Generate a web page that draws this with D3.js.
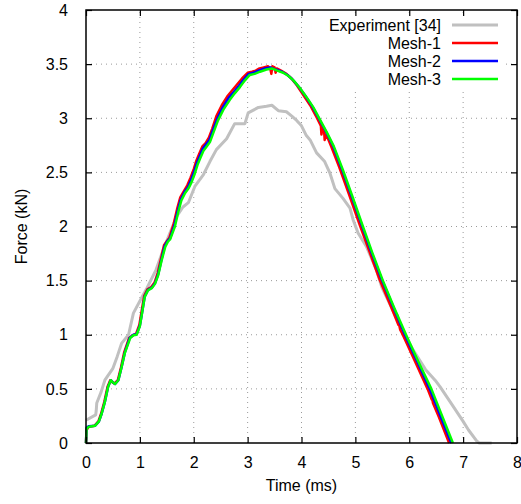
<!DOCTYPE html>
<html><head><meta charset="utf-8">
<script src="https://cdn.jsdelivr.net/npm/d3@7"></script>
<style>body{margin:0;background:#fff}svg{display:block}text{font-family:"Liberation Sans",Arial,Helvetica,sans-serif;font-size:16px;fill:#000}</style>
</head><body><div id="chart"></div>
<script>
const xTicks = [0,1,2,3,4,5,6,7,8];
const yTicks = [0,0.5,1,1.5,2,2.5,3,3.5,4];
const seriesNames = ["Experiment [34]","Mesh-1","Mesh-2","Mesh-3"];
const seriesColors = ["#c0c0c0","#ff0000","#0000ff","#00ff00"];

const experiment = [[0,0.21],[0.18,0.26],[0.19,0.3],[0.2,0.37],[0.28,0.47],[0.35,0.58],[0.5,0.69],[0.58,0.8],[0.66,0.92],[0.79,1.0],[0.88,1.2],[1.03,1.34],[1.13,1.43],[1.2,1.5],[1.3,1.6],[1.43,1.78],[1.55,1.93],[1.68,2.09],[1.8,2.18],[1.9,2.22],[2.02,2.37],[2.18,2.48],[2.3,2.6],[2.42,2.71],[2.61,2.81],[2.76,2.95],[2.95,2.95],[3.01,3.05],[3.2,3.10],[3.35,3.11],[3.45,3.12],[3.57,3.07],[3.72,3.06],[3.82,3.02],[3.91,2.98],[4.0,2.93],[4.09,2.84],[4.16,2.80],[4.28,2.68],[4.43,2.60],[4.53,2.49],[4.62,2.35],[4.77,2.26],[4.9,2.17],[4.96,2.06],[5.05,1.94],[5.21,1.81],[5.39,1.60],[5.49,1.44],[5.7,1.22],[5.9,1.02],[6.07,0.86],[6.3,0.68],[6.48,0.58],[6.57,0.52],[6.8,0.35],[7.0,0.2],[7.1,0.12],[7.25,0.02],[7.3,0],[7.53,0]];

const mesh1 = [[0,0],[0.01,0.12],[0.05,0.15],[0.16,0.16],[0.23,0.2],[0.28,0.27],[0.34,0.38],[0.4,0.52],[0.45,0.58],[0.49,0.56],[0.53,0.55],[0.59,0.58],[0.65,0.7],[0.71,0.84],[0.8,0.97],[0.87,0.995],[0.93,1.01],[0.99,1.09],[1.02,1.18],[1.08,1.36],[1.14,1.42],[1.21,1.44],[1.27,1.48],[1.33,1.57],[1.39,1.7],[1.45,1.83],[1.51,1.87],[1.55,1.9],[1.63,2.03],[1.69,2.16],[1.75,2.27],[1.82,2.33],[1.88,2.38],[1.94,2.45],[2.0,2.53],[2.05,2.61],[2.1,2.67],[2.16,2.74],[2.22,2.77],[2.28,2.82],[2.34,2.9],[2.42,3.02],[2.52,3.12],[2.62,3.2],[2.7,3.25],[2.8,3.31],[2.9,3.37],[3.0,3.42],[3.08,3.43],[3.15,3.44],[3.22,3.46],[3.3,3.47],[3.38,3.48],[3.42,3.46],[3.44,3.41],[3.46,3.48],[3.5,3.47],[3.52,3.42],[3.54,3.46],[3.62,3.44],[3.72,3.41],[3.81,3.37],[3.92,3.30],[4.04,3.21],[4.16,3.12],[4.28,3.01],[4.36,2.93],[4.37,2.85],[4.39,2.91],[4.42,2.88],[4.43,2.80],[4.46,2.85],[4.55,2.74],[4.7,2.55],[4.88,2.3],[5.07,2.03],[5.26,1.77],[5.45,1.51],[5.66,1.26],[5.8,1.09],[5.77,1.19],[5.83,1.05],[5.88,1.0],[6.11,0.75],[6.34,0.5],[6.42,0.40],[6.41,0.46],[6.44,0.37],[6.55,0.24],[6.74,0]];

const mesh2 = [[0,0],[0.01,0.14],[0.05,0.155],[0.17,0.16],[0.24,0.2],[0.29,0.27],[0.35,0.38],[0.41,0.52],[0.46,0.58],[0.5,0.56],[0.54,0.545],[0.6,0.58],[0.66,0.7],[0.72,0.835],[0.81,0.97],[0.88,1.0],[0.94,1.005],[1.0,1.085],[1.03,1.17],[1.09,1.355],[1.15,1.415],[1.22,1.435],[1.28,1.475],[1.34,1.56],[1.4,1.69],[1.46,1.82],[1.51,1.865],[1.56,1.89],[1.64,2.01],[1.7,2.14],[1.76,2.25],[1.83,2.32],[1.89,2.36],[1.95,2.43],[2.01,2.51],[2.06,2.59],[2.11,2.65],[2.17,2.72],[2.23,2.76],[2.29,2.8],[2.35,2.88],[2.44,3.0],[2.54,3.1],[2.65,3.19],[2.74,3.24],[2.84,3.3],[2.93,3.36],[3.02,3.41],[3.11,3.42],[3.2,3.44],[3.32,3.46],[3.42,3.47],[3.52,3.45],[3.64,3.43],[3.74,3.4],[3.83,3.36],[3.95,3.29],[4.08,3.2],[4.2,3.11],[4.32,3.0],[4.45,2.88],[4.58,2.75],[4.75,2.53],[4.93,2.28],[5.12,2.01],[5.3,1.76],[5.49,1.51],[5.7,1.26],[5.92,1.0],[6.15,0.75],[6.38,0.5],[6.58,0.25],[6.78,0]];

const mesh3 = [[0,0],[0.01,0.13],[0.05,0.15],[0.17,0.16],[0.24,0.2],[0.29,0.27],[0.35,0.38],[0.41,0.52],[0.46,0.58],[0.5,0.56],[0.54,0.545],[0.6,0.58],[0.66,0.7],[0.72,0.83],[0.82,0.97],[0.88,0.995],[0.94,1.0],[1.0,1.08],[1.03,1.17],[1.09,1.35],[1.15,1.41],[1.22,1.43],[1.28,1.47],[1.34,1.55],[1.4,1.68],[1.47,1.81],[1.52,1.86],[1.56,1.88],[1.65,2.0],[1.71,2.13],[1.77,2.24],[1.84,2.31],[1.9,2.35],[1.96,2.41],[2.02,2.49],[2.07,2.57],[2.12,2.63],[2.18,2.7],[2.24,2.74],[2.3,2.78],[2.36,2.86],[2.45,2.98],[2.55,3.08],[2.67,3.17],[2.76,3.23],[2.86,3.29],[2.95,3.35],[3.04,3.40],[3.13,3.41],[3.23,3.43],[3.35,3.45],[3.45,3.46],[3.55,3.44],[3.66,3.42],[3.76,3.39],[3.85,3.35],[3.97,3.28],[4.1,3.19],[4.22,3.10],[4.34,2.99],[4.47,2.87],[4.6,2.74],[4.77,2.52],[4.95,2.27],[5.14,2.0],[5.32,1.75],[5.51,1.5],[5.72,1.25],[5.94,1.0],[6.17,0.75],[6.41,0.5],[6.61,0.25],[6.81,0]];

const allSeries = [experiment, mesh1, mesh2, mesh3];

const W = 521, H = 504;
const m = {left:86, right:4, top:10, bottom:61};
const svg = d3.select("#chart").append("svg").attr("width",W).attr("height",H);
const x = d3.scaleLinear().domain([0,8]).range([m.left, W-m.right]);
const y = d3.scaleLinear().domain([0,4]).range([H-m.bottom, m.top]);
const x0 = x(0), x1 = x(8), y0 = y(0), y1 = y(4);

// grid
const g = svg.append("g");
g.selectAll(".gx").data(xTicks.filter(d=>d>0&&d<8)).enter().append("line")
  .attr("x1",d=>x(d)).attr("x2",d=>x(d)).attr("y1",y0).attr("y2",y1)
  .attr("stroke","#9a9a9a").attr("stroke-width",1).attr("stroke-dasharray","1,4");
g.selectAll(".gy").data(yTicks.filter(d=>d>0&&d<4)).enter().append("line")
  .attr("x1",x0).attr("x2",x1).attr("y1",d=>y(d)).attr("y2",d=>y(d))
  .attr("stroke","#9a9a9a").attr("stroke-width",1).attr("stroke-dasharray","1,4");

// curves
const line = d3.line().x(d=>x(d[0])).y(d=>y(d[1]));
const widths = [3,2.5,2.5,2.5];
allSeries.forEach((s,i)=>{
  svg.append("path").datum(s).attr("d",line).attr("fill","none")
    .attr("stroke",seriesColors[i]).attr("stroke-width",widths[i])
    .attr("stroke-linejoin","round");
});

// axes (inner ticks, mirrored)
const tl = 6;
svg.append("g").attr("transform",`translate(0,${y0})`)
  .call(d3.axisBottom(x).tickValues(xTicks).tickSize(-tl).tickPadding(14).tickFormat(d3.format("d")))
  .call(a=>{a.select(".domain").remove();a.selectAll("text").attr("font-size",16).attr("font-family","Liberation Sans, Arial, sans-serif");});
svg.append("g").attr("transform",`translate(0,${y1})`)
  .call(d3.axisTop(x).tickValues(xTicks).tickSize(-tl).tickFormat(""))
  .call(a=>a.select(".domain").remove());
svg.append("g").attr("transform",`translate(${x0},0)`)
  .call(d3.axisLeft(y).tickValues(yTicks).tickSize(-tl).tickPadding(18).tickFormat(d=>String(d)))
  .call(a=>{a.select(".domain").remove();a.selectAll("text").attr("font-size",16).attr("font-family","Liberation Sans, Arial, sans-serif");});
svg.append("g").attr("transform",`translate(${x1},0)`)
  .call(d3.axisRight(y).tickValues(yTicks).tickSize(-tl).tickFormat(""))
  .call(a=>a.select(".domain").remove());
svg.selectAll(".tick line").attr("stroke","#000").attr("stroke-width",1.2);

// legend (opaque)
const leg = svg.append("g");
leg.append("rect").attr("x",310).attr("y",17).attr("width",195).attr("height",71).attr("fill","#fff");
seriesNames.forEach((n,i)=>{
  const cy = 25 + i*18;
  leg.append("text").attr("x",441).attr("y",cy+6).attr("text-anchor","end").text(n);
  leg.append("line").attr("x1",452).attr("x2",498).attr("y1",cy).attr("y2",cy)
    .attr("stroke",seriesColors[i]).attr("stroke-width",widths[i]);
});

// frame
svg.append("rect").attr("x",x0).attr("y",y1).attr("width",x1-x0).attr("height",y0-y1)
  .attr("fill","none").attr("stroke","#000").attr("stroke-width",1.5);

// axis titles
svg.append("text").attr("x",(x0+x1)/2).attr("y",491).attr("text-anchor","middle").text("Time (ms)");
svg.append("text").attr("transform",`translate(27,${(y0+y1)/2}) rotate(-90)`).attr("text-anchor","middle").text("Force (kN)");
</script></body></html>
